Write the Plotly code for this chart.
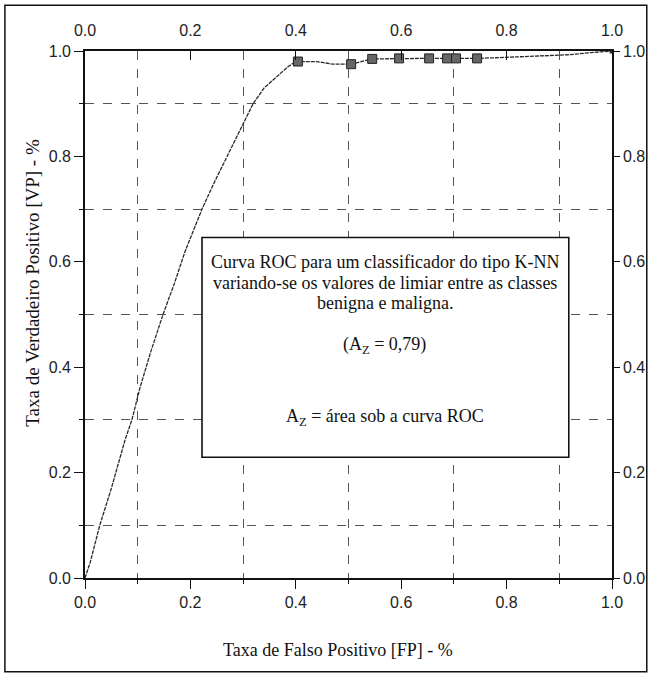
import plotly.graph_objects as go

# ROC curve (false positive rate, true positive rate)
curve_fp = [0.0, 0.01, 0.028, 0.05, 0.076, 0.089, 0.104, 0.125, 0.148, 0.17, 0.19, 0.222,
            0.245, 0.27, 0.295, 0.319, 0.34, 0.364, 0.385, 0.40, 0.44, 0.47, 0.505, 0.545,
            0.596, 0.653, 0.687, 0.704, 0.744, 0.80, 0.86, 0.92, 0.96, 1.0]
curve_vp = [0.0, 0.03, 0.10, 0.17, 0.262, 0.30, 0.36, 0.43, 0.50, 0.56, 0.62, 0.70,
            0.75, 0.80, 0.85, 0.90, 0.93, 0.951, 0.97, 0.98, 0.98, 0.975, 0.975, 0.985,
            0.986, 0.986, 0.986, 0.986, 0.986, 0.988, 0.99, 0.993, 0.997, 1.0]

# threshold points (square markers)
mark_fp = [0.404, 0.505, 0.545, 0.596, 0.653, 0.687, 0.704, 0.744]
mark_vp = [0.98, 0.975, 0.985, 0.986, 0.986, 0.986, 0.986, 0.986]
end_fp = [1.0]
end_vp = [1.0]

tick_vals = [0.0, 0.2, 0.4, 0.6, 0.8, 1.0]
tick_text = ["0.0", "0.2", "0.4", "0.6", "0.8", "1.0"]
grid_vals = [0.1, 0.3, 0.5, 0.7, 0.9]

box_lines = ["Curva ROC para um classificador do tipo K-NN",
             "variando-se os valores de limiar entre as classes",
             "benigna e maligna."]
az_text = "(A<sub>Z</sub> = 0,79)"
az_def = "A<sub>Z</sub> = área sob a curva ROC"
x_title = "Taxa de Falso Positivo [FP] - %"
y_title = "Taxa de Verdadeiro Positivo [VP] - %"

serif = "Liberation Serif"
sans = "Liberation Sans, Arial"

fig = go.Figure()
fig.add_trace(go.Scatter(x=curve_fp, y=curve_vp, mode="lines",
                         line=dict(color="#2a2a2a", width=1.3, dash="4px,1px"),
                         showlegend=False, hoverinfo="skip"))
fig.add_trace(go.Scatter(x=mark_fp, y=mark_vp, mode="markers",
                         marker=dict(symbol="square", size=9, color="#666666",
                                     line=dict(color="#222222", width=1)),
                         showlegend=False))
fig.add_trace(go.Scatter(x=end_fp, y=end_vp, mode="markers",
                         marker=dict(symbol="square", size=5, color="#333333"),
                         showlegend=False))
# invisible trace for the top / right axes
fig.add_trace(go.Scatter(x=[0, 1], y=[0, 1], xaxis="x2", yaxis="y2", mode="markers",
                         marker=dict(opacity=0), showlegend=False, hoverinfo="skip"))

grid_style = dict(showgrid=True, gridcolor="#555555", griddash="dash", gridwidth=1,
                  tickvals=grid_vals, ticks="outside", ticklen=4, tickcolor="#111111")


def axis_common(ticklen=9, **extra):
    d = dict(range=[0, 1], tickvals=tick_vals, ticktext=tick_text, automargin=False,
             showgrid=False, zeroline=False, showline=True, linecolor="#111111",
             linewidth=1.6, ticklen=ticklen, tickcolor="#111111", tickwidth=1.2,
             tickfont=dict(family=sans, size=16, color="#222222"))
    d.update(extra)
    return d


fig.update_layout(
    width=649, height=676,
    margin=dict(l=85, r=37, t=51, b=98),
    paper_bgcolor="white", plot_bgcolor="white",
    xaxis=axis_common(ticks="outside", minor=grid_style),
    yaxis=axis_common(ticks="outside", minor=grid_style),
    xaxis2=axis_common(overlaying="x", side="top", ticks="inside",
                       ticklabelstandoff=7, anchor="y"),
    yaxis2=axis_common(ticklen=6, overlaying="y", side="right",
                       ticks="outside", anchor="x"),
    showlegend=False,
)

# text box
fig.add_shape(type="rect", xref="x", yref="y", x0=0.222, x1=0.918, y0=0.229, y1=0.646,
              line=dict(color="#111111", width=1.6), fillcolor="white", layer="above")

text_y = [0.599, 0.559, 0.521]
for line, ty in zip(box_lines, text_y):
    fig.add_annotation(x=0.569, y=ty, xref="x", yref="y", text=line, showarrow=False,
                       xanchor="center", yanchor="middle",
                       font=dict(family=serif, size=18, color="#111111"))
fig.add_annotation(x=0.569, y=0.441, xref="x", yref="y", text=az_text, showarrow=False,
                   xanchor="center", yanchor="middle",
                   font=dict(family=serif, size=18, color="#111111"))
fig.add_annotation(x=0.569, y=0.304, xref="x", yref="y", text=az_def, showarrow=False,
                   xanchor="center", yanchor="middle",
                   font=dict(family=serif, size=18, color="#111111"))

# axis titles
fig.add_annotation(x=0.48, y=-0.137, xref="paper", yref="paper", text=x_title,
                   showarrow=False, xanchor="center", yanchor="middle",
                   font=dict(family=serif, size=18, color="#111111"))
fig.add_annotation(x=-0.099, y=0.56, xref="paper", yref="paper", text=y_title,
                   textangle=-90, showarrow=False, xanchor="center", yanchor="middle",
                   font=dict(family=serif, size=19, color="#111111"))

# outer frame
fig.add_shape(type="rect", xref="paper", yref="paper", x0=-0.152, x1=1.066,
              y0=-0.178, y1=1.087, line=dict(color="#111111", width=1.5))

fig.write_html("out.html", config={"displayModeBar": False},
               post_script="document.body.style.margin='0px';")
